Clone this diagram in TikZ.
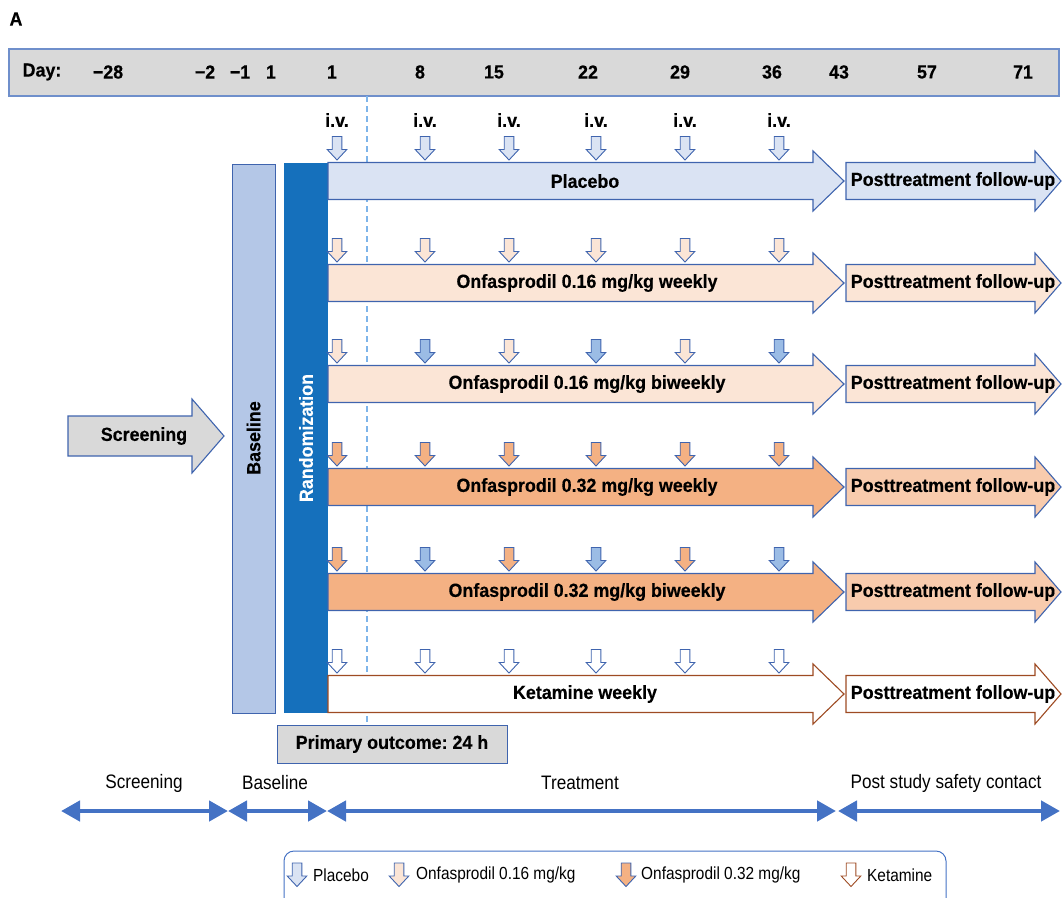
\documentclass[tikz,border=0pt]{standalone}
\usepackage{fontspec}
\setmainfont{Liberation Sans}[FakeStretch=0.94, BoldFeatures={FakeBold=0.3}]
\newfontfamily\lfont{Liberation Sans}[FakeStretch=0.88]
\usetikzlibrary{arrows.meta}
\frenchspacing
\definecolor{lnblue}{HTML}{3F64AE}
\definecolor{baredge}{HTML}{6F8FCB}
\definecolor{grayfill}{HTML}{D9D9D9}
\definecolor{lblue}{HTML}{DAE3F3}
\definecolor{mblue}{HTML}{9BBCE5}
\definecolor{basefill}{HTML}{B4C7E7}
\definecolor{randblue}{HTML}{1570BC}
\definecolor{peach}{HTML}{FBE5D6}
\definecolor{dorange}{HTML}{F4B183}
\definecolor{lorange}{HTML}{F8CBAD}
\definecolor{kbrown}{HTML}{9E4B23}
\definecolor{phaseblue}{HTML}{4472C4}
\definecolor{dashblue}{HTML}{7FB5EA}
\newcommand\myarrow[6]{% x1, xtip, yc, headlen, fill, draw
  \draw[line width=1.1pt, line join=miter, fill=#5, draw=#6]
    (#1,#3-18.5) -- (#2-#4,#3-18.5) -- (#2-#4,#3-30) -- (#2,#3)
    -- (#2-#4,#3+30) -- (#2-#4,#3+18.5) -- (#1,#3+18.5) -- cycle;}
\newcommand\dose[4]{% x, ytop, fill, draw
  \draw[line width=0.9pt, line join=miter, fill=#3, draw=#4]
    (#1-4.8,#2) -- (#1+4.8,#2) -- (#1+4.8,#2+13) -- (#1+9.8,#2+13)
    -- (#1,#2+23.5) -- (#1-9.8,#2+13) -- (#1-4.8,#2+13) -- cycle;}
\tikzset{
  lbl/.style={font=\fontsize{19}{22}\selectfont\bfseries, inner sep=0pt},
  phase/.style={font=\lfont\fontsize{19.5}{22}\selectfont, inner sep=0pt},
  leg/.style={font=\lfont\fontsize{17.5}{20}\selectfont, anchor=west, inner sep=0pt},
  phasearrow/.style={draw=phaseblue, line width=4.5pt,
    {Triangle[length=19pt,width=20pt]}-{Triangle[length=19pt,width=20pt]}},
  dashline/.style={draw=dashblue, line width=1.1pt, dash pattern=on 6pt off 4pt}
}
\begin{document}
\begin{tikzpicture}[x=1pt,y=-1pt]
\useasboundingbox (0,0) rectangle (1062,897);
\node[lbl] (A) at (16,19) {A};
% day bar
\draw[fill=grayfill, draw=baredge, line width=1.2pt] (9,49) rectangle (1059,96);
\node[lbl] (dday) at (42,72) {Day:};
\foreach \x/\t [count=\i] in {108/−28,205/−2,240/−1,271/1,332/1,420/8,494/15,588/22,680/29,772/36,839/43,927/57,1023/71}
  \node[lbl] (d\i) at (\x,72) {\t};
% dashed line
\coordinate (dtop) at (367,96);
\coordinate (dbot) at (367,725);
\draw[dashline] (dtop) -- (dbot);
% i.v.
\foreach \x [count=\i] in {337,425,509,596,685,779}
  \node[lbl] (iv\i) at (\x,120) {i.v.};
% baseline & randomization
\draw[fill=basefill, draw=lnblue, line width=1pt] (232,164) rectangle (275,713);
\node[lbl, rotate=90] (baseline) at (253.5,438) {Baseline};
\fill[randblue] (284,163) rectangle (328,713);
\node[lbl, rotate=90, text=white] (rand) at (306,438) {Randomization};
% screening arrow
\draw[fill=grayfill, draw=lnblue, line width=1.1pt, line join=miter]
  (68,416) -- (192,416) -- (192,399) -- (224,436) -- (192,473) -- (192,456) -- (68,456) -- cycle;
\node[lbl] (scr) at (144,436) {Screening};
% rows
\myarrow{328}{844}{181}{31}{lblue}{lnblue}
\myarrow{846}{1061}{181}{26}{lblue}{lnblue}
\myarrow{328}{844}{283}{31}{peach}{lnblue}
\myarrow{846}{1061}{283}{26}{peach}{lnblue}
\myarrow{328}{844}{384}{31}{peach}{lnblue}
\myarrow{846}{1061}{384}{26}{peach}{lnblue}
\myarrow{328}{844}{487}{31}{dorange}{lnblue}
\myarrow{846}{1061}{487}{26}{lorange}{lnblue}
\myarrow{328}{844}{592}{31}{dorange}{lnblue}
\myarrow{846}{1061}{592}{26}{lorange}{lnblue}
\myarrow{328}{844}{694}{31}{white}{kbrown}
\myarrow{846}{1061}{694}{26}{white}{kbrown}
\node[lbl] (t1) at (585,181) {Placebo};
\node[lbl] (t2) at (587,283) {Onfasprodil 0.16 mg/kg weekly};
\node[lbl] (t3) at (587,384) {Onfasprodil 0.16 mg/kg biweekly};
\node[lbl] (t4) at (587,487) {Onfasprodil 0.32 mg/kg weekly};
\node[lbl] (t5) at (587,592) {Onfasprodil 0.32 mg/kg biweekly};
\node[lbl] (t6) at (585,694) {Ketamine weekly};
\foreach \y [count=\i] in {181,283,384,487,592,694}
  \node[lbl] (f\i) at (953,\y) {Posttreatment follow-up};
% doses
\foreach \x in {337,425,509,596,685,779} {\dose{\x}{136.5}{lblue}{lnblue}}
\foreach \x in {337,425,509,596,685,779} {\dose{\x}{238.5}{peach}{lnblue}}
\foreach \x/\c in {337/peach,425/mblue,509/peach,596/mblue,685/peach,779/mblue} {\dose{\x}{339.5}{\c}{lnblue}}
\foreach \x in {337,425,509,596,685,779} {\dose{\x}{442.5}{dorange}{lnblue}}
\foreach \x/\c in {337/dorange,425/mblue,509/dorange,596/mblue,685/dorange,779/mblue} {\dose{\x}{547.5}{\c}{lnblue}}
\foreach \x in {337,425,509,596,685,779} {\dose{\x}{649.5}{white}{lnblue}}
% primary outcome
\draw[fill=grayfill, draw=lnblue, line width=1pt] (277,725) rectangle (507,763);
\node[lbl] (prim) at (392,744) {Primary outcome: 24 h};
% phase arrows
\coordinate (s0) at (61,811);
\coordinate (s1) at (228,811);
\coordinate (s2) at (327,811);
\coordinate (s3) at (836,811);
\coordinate (s4) at (838,811);
\coordinate (s5) at (1060,811);
\draw[phasearrow] (s0) -- (s1);
\draw[phasearrow] (s1) -- (s2);
\draw[phasearrow] (s2) -- (s3);
\draw[phasearrow] (s4) -- (s5);
\node[phase] (p1) at (144,783) {Screening};
\node[phase] (p2) at (275,783) {Baseline};
\node[phase] (p3) at (580,783) {Treatment};
\node[phase] (p4) at (946,783) {Post study safety contact};
% legend
\draw[draw=phaseblue, line width=1pt, rounded corners=10pt] (284,851) rectangle (946,908);
\dose{297}{863}{lblue}{lnblue}
\node[leg] (l1) at (313,875) {Placebo};
\dose{399}{863}{peach}{lnblue}
\node[leg] (l2) at (416,875) {Onfasprodil 0.16 mg/kg};
\dose{626}{863}{dorange}{lnblue}
\node[leg] (l3) at (641,875) {Onfasprodil 0.32 mg/kg};
\dose{851}{863}{white}{kbrown}
\node[leg] (l4) at (867,875) {Ketamine};
\end{tikzpicture}
\end{document}
